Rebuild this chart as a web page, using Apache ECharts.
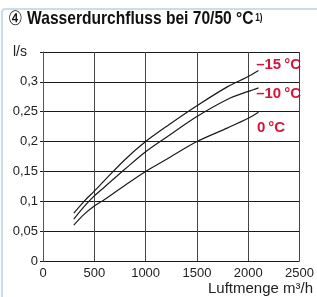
<!DOCTYPE html>
<html>
<head>
<meta charset="utf-8">
<script src="https://cdn.jsdelivr.net/npm/echarts@6/dist/echarts.min.js"></script>
<style>
    html, body { margin: 0; padding: 0; background: #fff; }
    #wrap { position: relative; width: 317px; height: 297px; }
    #frame {
        position: absolute; left: 1px; top: 8px; right: 0; bottom: 0;
        border-left: 2px solid #c9ddf0; border-top: 2px solid #c9ddf0;
        border-top-left-radius: 4px;
    }
    #chart { position: absolute; left: 0; top: 0; width: 317px; height: 297px; }
</style>
</head>
<body>
<div id="wrap">
    <div id="frame"></div>
    <div id="chart"></div>
</div>
<script>
// Luftmenge (m³/h)
const airflow = [300, 400, 500, 600, 800, 1000, 1200, 1500, 1800, 2000, 2100]
// Wasserdurchfluss (l/s) je Außentemperatur
const minus15 = [0.080, 0.100, 0.117, 0.135, 0.170, 0.200, 0.225, 0.260, 0.292, 0.309, 0.319]
const minus10 = [0.070, 0.091, 0.109, 0.124, 0.154, 0.183, 0.207, 0.242, 0.271, 0.284, 0.290]
const zero    = [0.060, 0.078, 0.092, 0.103, 0.127, 0.150, 0.170, 0.200, 0.223, 0.239, 0.249]
const seriesNames = ['–15\u2009°C', '–10\u2009°C', '0\u2009°C']

const font = '"Liberation Sans", Arial, sans-serif'
const red = '#d5143c'

const pairs = ys => airflow.map((x, i) => [x, ys[i]])

const chart = echarts.init(document.getElementById('chart'), null, { renderer: 'canvas' })
chart.setOption({
    animation: false,
    grid: { left: 43, right: 14, top: 52, bottom: 36 },
    xAxis: {
        type: 'value',
        min: 0,
        max: 2500,
        interval: 500,
        axisLine: { show: false },
        axisTick: { show: false },
        axisLabel: { color: '#222', fontSize: 13, fontFamily: font, margin: 6, formatter: v => String(v) },
        splitLine: { lineStyle: { color: '#444', width: 1 } }
    },
    yAxis: {
        type: 'value',
        min: 0,
        max: 0.35,
        interval: 0.05,
        name: 'l/s',
        nameLocation: 'end',
        nameGap: 0,
        nameTextStyle: { color: '#222', fontSize: 14, fontFamily: font, align: 'right', verticalAlign: 'middle',
                         padding: [0, 16, 0, 0] },
        axisLine: { show: true, lineStyle: { color: '#555' } },
        axisTick: { show: true, length: 3, lineStyle: { color: '#222' } },
        axisLabel: {
            color: '#222', fontSize: 13, fontFamily: font, margin: 5,
            formatter: v => v >= 0.349 ? '' : String(+v.toFixed(2)).replace('.', ',')
        },
        splitLine: { lineStyle: { color: '#1a1a1a', width: 1 } }
    },
    series: [minus15, minus10, zero].map((ys, i) => ({
        name: seriesNames[i],
        type: 'line',
        data: pairs(ys),
        smooth: 0.3,
        showSymbol: false,
        lineStyle: { color: '#1a1a1a', width: 1.2 }
    })),
    graphic: [
        {
            type: 'text', x: 8, y: 9, scaleX: 0.82,
            style: {
                text: '{c|④} Wasserdurchfluss bei 70/50 °C{sup|1)}',
                fill: '#111',
                fontFamily: font, fontWeight: 'bold', fontSize: 19,
                rich: {
                    c: { fontSize: 20, fontWeight: 'normal', fontFamily: font, fill: '#111' },
                    sup: { fontSize: 10, fontWeight: 'bold', fontFamily: font, fill: '#111',
                           verticalAlign: 'top', padding: [4, 0, 0, 2] }
                }
            }
        },
        { type: 'text', right: 16, top: 57, style: { text: seriesNames[0], fill: red, font: 'bold 15px ' + font } },
        { type: 'text', right: 16, top: 86, style: { text: seriesNames[1], fill: red, font: 'bold 15px ' + font } },
        { type: 'text', left: 257, top: 120, style: { text: seriesNames[2], fill: red, font: 'bold 15px ' + font } },
        { type: 'text', right: 4, top: 281, style: { text: 'Luftmenge m³/h', fill: '#222', font: '15px ' + font } }
    ]
})
</script>
</body>
</html>
